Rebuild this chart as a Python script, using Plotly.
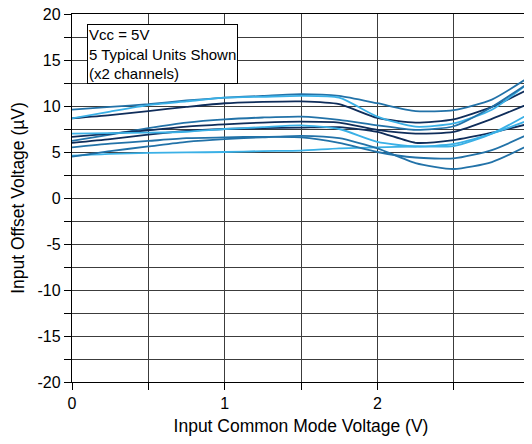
import plotly.graph_objects as go

x_vals = [0, 0.25, 0.5, 0.75, 1.0, 1.25, 1.5, 1.75, 2.0, 2.25, 2.5, 2.75, 3.0]

unit1_ch1 = [9.6, 9.9, 10.2, 10.6, 10.9, 11.1, 11.3, 11.1, 10.3, 9.45, 9.55, 10.7, 13.2]
unit1_ch2 = [8.65, 9.0, 9.45, 9.9, 10.3, 10.45, 10.5, 10.2, 8.7, 8.2, 8.55, 9.9, 11.9]
unit2_ch1 = [8.65, 9.4, 10.1, 10.5, 10.9, 11.0, 11.1, 10.9, 8.85, 7.75, 8.1, 9.6, 12.6]
unit2_ch2 = [6.2, 6.9, 7.6, 8.2, 8.55, 8.75, 8.85, 8.5, 7.9, 7.4, 7.8, 9.9, 12.6]
unit3_ch1 = [6.65, 7.0, 7.35, 7.75, 8.0, 8.2, 8.3, 8.2, 7.4, 7.0, 7.2, 8.6, 10.3]
unit3_ch2 = [6.0, 6.4, 6.9, 7.3, 7.5, 7.6, 7.65, 7.7, 7.2, 6.0, 6.3, 7.1, 8.1]
unit4_ch1 = [7.0, 7.05, 7.1, 7.2, 7.5, 7.7, 7.9, 7.5, 6.1, 5.6, 5.87, 7.0, 8.5]
unit4_ch2 = [4.6, 4.8, 4.9, 4.95, 5.0, 5.1, 5.15, 5.4, 5.5, 5.6, 5.65, 7.0, 9.2]
unit5_ch1 = [5.5, 5.9, 6.2, 6.5, 6.6, 6.65, 6.6, 6.0, 5.0, 4.4, 4.3, 5.2, 7.0]
unit5_ch2 = [4.5, 5.1, 5.6, 6.1, 6.4, 6.6, 6.75, 6.5, 5.4, 3.8, 3.15, 3.9, 5.8]

series = [unit1_ch1, unit1_ch2, unit2_ch1, unit2_ch2, unit3_ch1,
          unit3_ch2, unit4_ch1, unit4_ch2, unit5_ch1, unit5_ch2]

x_ticks = [0, 1, 2, 3]
x_ticklabels = ["0", "1", "2", "3"]
y_ticks = [20, 15, 10, 5, 0, -5, -10, -15, -20]
y_ticklabels = ["20", "15", "10", "5", "0", "-5", "-10", "-15", "-20"]

NAVY = "#0f2d5a"
MED = "#2272a8"
LIGHT = "#3ab0e6"
colors = [MED, NAVY, LIGHT, MED, NAVY, NAVY, LIGHT, LIGHT, MED, MED]

FONT = "Liberation Sans, Arial"

fig = go.Figure()
for ys, c in zip(series, colors):
    fig.add_trace(go.Scatter(x=x_vals, y=ys, mode="lines",
                             line=dict(color=c, width=1.8, shape="spline", smoothing=0.6),
                             showlegend=False, hoverinfo="skip"))

grid_color = "#3c3c3c"
fig.update_xaxes(range=[0, 3], tickmode="array", tickvals=x_ticks, ticktext=x_ticklabels,
                 showgrid=True, gridcolor=grid_color, gridwidth=1.3,
                 minor=dict(dtick=0.5, tick0=0, showgrid=True, gridcolor=grid_color, gridwidth=1.3,
                            ticks="outside", ticklen=7, tickcolor="black"),
                 ticks="outside", ticklen=7, tickcolor="black",
                 showline=True, linecolor="black", linewidth=1.3, mirror=True,
                 zeroline=False, automargin=False, ticklabeloverflow="allow",
                 tickfont=dict(family=FONT, size=16, color="black"),
                 title=dict(text="Input Common Mode Voltage (V)",
                            font=dict(family=FONT, size=17.5, color="black"),
                            standoff=10))
fig.update_yaxes(range=[-20, 20], tickmode="array", tickvals=y_ticks, ticktext=y_ticklabels,
                 showgrid=True, gridcolor=grid_color, gridwidth=1.3,
                 minor=dict(dtick=2.5, tick0=0, showgrid=True, gridcolor=grid_color, gridwidth=1.3,
                            ticks="outside", ticklen=7, tickcolor="black"),
                 ticks="outside", ticklen=7, tickcolor="black",
                 showline=True, linecolor="black", linewidth=1.3, mirror=True,
                 zeroline=False, automargin=False, ticklabeloverflow="allow",
                 tickfont=dict(family=FONT, size=16, color="black"),
                 title=dict(text="Input Offset Voltage (µV)",
                            font=dict(family=FONT, size=17.5, color="black"),
                            standoff=10))

fig.add_annotation(x=0.1, y=18.9, xref="x", yref="y", xanchor="left", yanchor="top",
                   text="Vcc = 5V<br>5 Typical Units Shown<br>(x2 channels)",
                   align="left", showarrow=False,
                   font=dict(family=FONT, size=15, color="black"),
                   bgcolor="white", bordercolor="black", borderwidth=1, borderpad=1)

# the page body adds an 8px offset, so the figure is sized to fill the window without scrolling
fig.update_layout(width=524, height=428, margin=dict(l=64, r=2, t=6, b=54),
                  plot_bgcolor="white", paper_bgcolor="white")

fig.write_html("out.html")
